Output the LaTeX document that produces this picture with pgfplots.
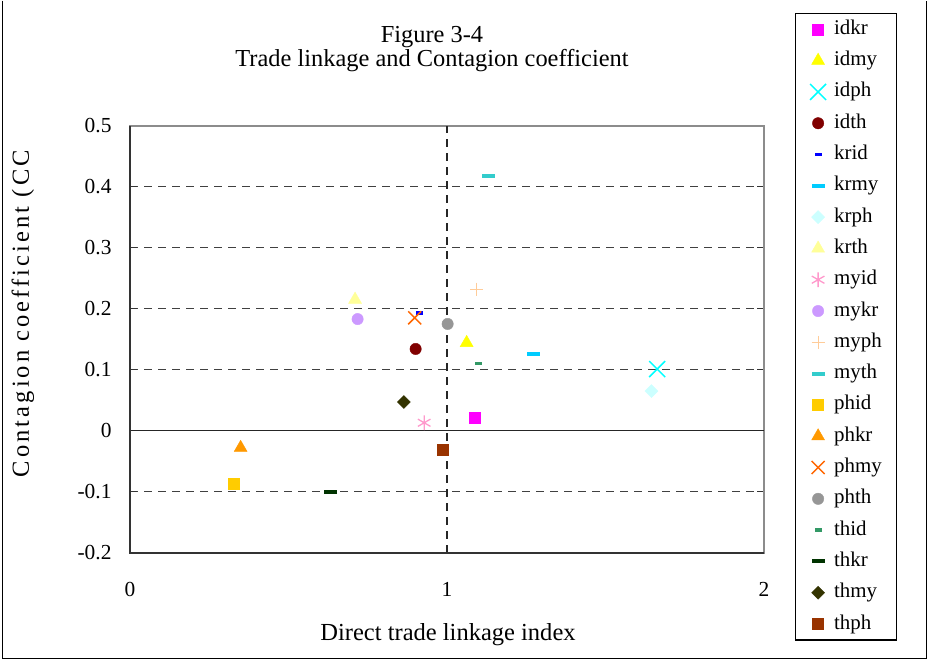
\documentclass[border=0pt]{standalone}
\usepackage{fontspec}
\setmainfont{Liberation Serif}
\usepackage{pgfplots}
\pgfplotsset{compat=1.18}
\definecolor{cidkr}{HTML}{FF00FF}
\definecolor{cidmy}{HTML}{FFFF00}
\definecolor{cidph}{HTML}{00FFFF}
\definecolor{cidth}{HTML}{800000}
\definecolor{ckrid}{HTML}{0000FF}
\definecolor{ckrmy}{HTML}{00CCFF}
\definecolor{ckrph}{HTML}{CCFFFF}
\definecolor{ckrth}{HTML}{FFFF99}
\definecolor{cmyid}{HTML}{FF99CC}
\definecolor{cmykr}{HTML}{CC99FF}
\definecolor{cmyph}{HTML}{FFCC99}
\definecolor{cmyth}{HTML}{33CCCC}
\definecolor{cphid}{HTML}{FFCC00}
\definecolor{cphkr}{HTML}{FF9900}
\definecolor{cphmy}{HTML}{FF6600}
\definecolor{cphth}{HTML}{969696}
\definecolor{cthid}{HTML}{339966}
\definecolor{cthkr}{HTML}{003300}
\definecolor{cthmy}{HTML}{333300}
\definecolor{cthph}{HTML}{993300}
\pgfplotsset{pt/.style={only marks, line width=0.4bp,
  legend image code/.code={\path[draw=none, fill=none] (0bp,-2bp) rectangle (24bp,2bp);
    \draw[##1, only marks] plot coordinates {(8bp,0bp)};}}}
\begin{document}
\begin{tikzpicture}
\path (-130bp,-108bp) rectangle (798bp,552bp);
\draw[line width=1.4bp] (-127.3bp,552bp) -- (-127.3bp,-105.5bp) -- (796.7bp,-105.5bp) -- (796.7bp,552bp);
\begin{axis}[
 width=634bp, height=427bp, scale only axis,
 xmin=0, xmax=2, ymin=-0.2, ymax=0.5,
 xtick={0,1,2}, xticklabels={0,1,2},
 ytick={-0.2,-0.1,0,0.1,0.2,0.3,0.4,0.5},
 yticklabels={-0.2,-0.1,0,0.1,0.2,0.3,0.4,0.5},
 tick align=inside, major tick length=7bp, tick style={black!80, line width=1bp},
 ymajorgrids, grid style={dash pattern=on 8bp off 6bp, black!75, line width=1.1bp},
 axis line style={draw=black!45, line width=1.6bp},
 ticklabel style={font=\fontsize{21.5}{24}\selectfont},
 yticklabel style={anchor=east, inner sep=0pt, xshift=-18.3bp},
 xticklabel style={anchor=base, inner sep=0pt, yshift=-43.5bp},
 clip=false,
 legend style={at={(1.0489,1.2646)}, anchor=north west, draw=black, line width=1.2bp,
   font=\fontsize{21}{24}\selectfont, inner xsep=14.5bp, inner ysep=6.5bp, row sep=12.3bp,
   cells={anchor=west}, nodes={inner sep=0pt, text height=14.5bp, text depth=4.5bp}},
 legend cell align=left,
]
\draw[black!85, line width=1.3bp] (axis cs:0,0) -- (axis cs:2,0);
\draw[dash pattern=on 8bp off 6bp, black!85, line width=1.1bp] (axis cs:1,-0.2) -- (axis cs:1,0.5);
\draw[black!80, line width=1.6bp] (rel axis cs:0,1) -- (rel axis cs:0,0) -- (rel axis cs:1,0);

\addplot[pt, mark=square*, mark size=5.5bp, color=cidkr] coordinates {(1.087,0.021)};
\addlegendentry{idkr}
\addplot[pt, mark=triangle*, mark size=7.5bp, color=cidmy] coordinates {(1.062,0.144)};
\addlegendentry{idmy}
\addplot[pt, mark=x, mark size=11.3bp, line width=1.5bp, color=cidph] coordinates {(1.663,0.101)};
\addlegendentry{idph}
\addplot[pt, mark=*, mark size=5.7bp, color=cidth] coordinates {(0.901,0.134)};
\addlegendentry{idth}
\addplot[pt, mark=-, mark size=3.5bp, line width=3.5bp, color=ckrid] coordinates {(0.913,0.193)};
\addlegendentry{krid}
\addplot[pt, mark=-, mark size=6.5bp, line width=4bp, color=ckrmy] coordinates {(1.272,0.125)};
\addlegendentry{krmy}
\addplot[pt, mark=square*, mark size=4.6bp, mark options={rotate=45}, color=ckrph] coordinates {(1.645,0.065)};
\addlegendentry{krph}
\addplot[pt, mark=triangle*, mark size=7.5bp, color=ckrth] coordinates {(0.710,0.215)};
\addlegendentry{krth}
\addplot[pt, mark=asterisk, mark size=7.3bp, line width=1.3bp, color=cmyid] coordinates {(0.928,0.013)};
\addlegendentry{myid}
\addplot[pt, mark=*, mark size=5.7bp, color=cmykr] coordinates {(0.718,0.183)};
\addlegendentry{mykr}
\addplot[pt, mark=+, mark size=6.5bp, line width=1.2bp, color=cmyph] coordinates {(1.094,0.232)};
\addlegendentry{myph}
\addplot[pt, mark=-, mark size=6.5bp, line width=4bp, color=cmyth] coordinates {(1.130,0.417)};
\addlegendentry{myth}
\addplot[pt, mark=square*, mark size=5.5bp, color=cphid] coordinates {(0.327,-0.087)};
\addlegendentry{phid}
\addplot[pt, mark=triangle*, mark size=7.5bp, color=cphkr] coordinates {(0.349,-0.028)};
\addlegendentry{phkr}
\addplot[pt, mark=x, mark size=9.2bp, line width=1.5bp, color=cphmy] coordinates {(0.898,0.185)};
\addlegendentry{phmy}
\addplot[pt, mark=*, mark size=5.7bp, color=cphth] coordinates {(1.002,0.175)};
\addlegendentry{phth}
\addplot[pt, mark=-, mark size=3.5bp, line width=3.5bp, color=cthid] coordinates {(1.098,0.110)};
\addlegendentry{thid}
\addplot[pt, mark=-, mark size=6.5bp, line width=4bp, color=cthkr] coordinates {(0.633,-0.100)};
\addlegendentry{thkr}
\addplot[pt, mark=square*, mark size=4.6bp, mark options={rotate=45}, color=cthmy] coordinates {(0.864,0.047)};
\addlegendentry{thmy}
\addplot[pt, mark=square*, mark size=5.5bp, color=cthph] coordinates {(0.986,-0.031)};
\addlegendentry{thph}
\end{axis}
\node[anchor=base, font=\fontsize{24.5}{28}\selectfont] at (302bp,510.3bp) {Figure 3-4};
\node[anchor=base, font=\fontsize{24.5}{28}\selectfont] at (302bp,486bp) {Trade linkage and Contagion coefficient};
\node[anchor=base, font=\fontsize{24.6}{28}\selectfont] at (318bp,-88bp) {Direct trade linkage index};
\node[anchor=base, rotate=90, font=\fontsize{24.6}{28}\selectfont\addfontfeatures{LetterSpace=12.5}] at (-101bp,239bp) {Contagion coefficient (CC};
\end{tikzpicture}
\end{document}
